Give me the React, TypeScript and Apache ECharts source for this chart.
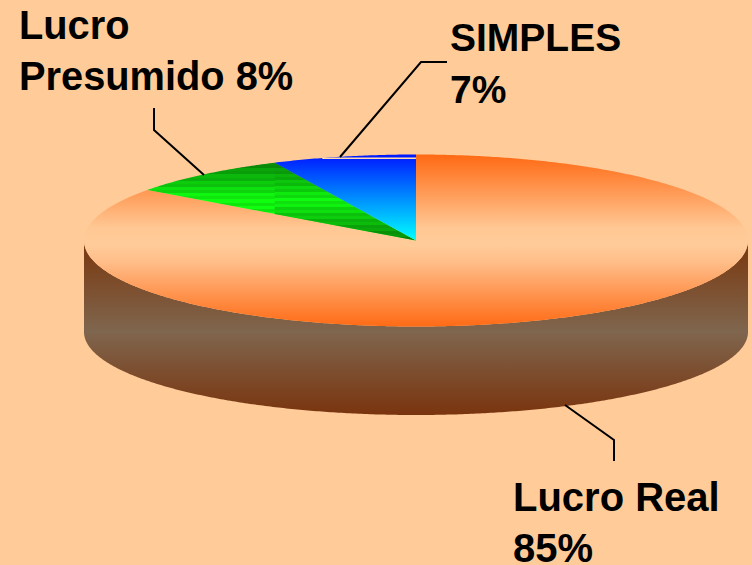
import React, { useEffect, useRef } from "react";
import * as echarts from "echarts";

const categories = ["Lucro Real", "Lucro Presumido", "SIMPLES"];
const percents = [85, 8, 7];

const BG = "#FFCC99";
const CX = 416;
const CY = 240.5;
const RX = 332;
const RY = 86;
const LOW_CY = 332;
const LOW_RY = 83;

const vgrad = (y1: number, y2: number, stops: [number, string][]) => ({
  type: "linear",
  x: 0,
  y: y1,
  x2: 0,
  y2,
  global: true,
  colorStops: stops.map(([offset, color]) => ({ offset, color })),
});

// Banded green shading: bright level runs from edge to peak with a 3px stripe.
const greenBands = (y1: number, y2: number, level: (f: number) => number) => {
  const n = Math.floor((y2 - y1) / 3);
  const stops: any[] = [];
  for (let k = 0; k < n; k++) {
    const v = level((k + 0.5) / n) * (k % 2 ? 0.9 : 1);
    const g = Math.round(v);
    const color = `rgb(${Math.round(g * 0.06)},${g},${Math.round(g * 0.06)})`;
    stops.push({ offset: k / n, color }, { offset: (k + 1) / n, color });
  }
  return { type: "linear", x: 0, y: y1, x2: 0, y2, global: true, colorStops: stops };
};

const pt = (deg: number, cy = CY, ry = RY): number[] => {
  const t = (deg * Math.PI) / 180;
  return [CX + RX * Math.sin(t), cy - ry * Math.cos(t)];
};

const arc = (a: number, b: number, cy = CY, ry = RY): number[][] => {
  const n = Math.max(2, Math.ceil(Math.abs(b - a) * 2));
  const out: number[][] = [];
  for (let i = 0; i <= n; i++) out.push(pt(a + ((b - a) * i) / n, cy, ry));
  return out;
};

const total = percents.reduce((s, v) => s + v, 0);
const span = (i: number): [number, number] => {
  const before = percents.slice(0, i).reduce((s, v) => s + v, 0);
  return [(before / total) * 360, ((before + percents[i]) / total) * 360];
};

const topFills = [
  vgrad(155, 327, [
    [0, "#FF6A14"],
    [0.42, "#FFC793"],
    [0.52, "#FFCC99"],
    [0.62, "#FFBE8A"],
    [1, "#FF6A14"],
  ]),
  greenBands(162, 215, (f) => 138 + 117 * Math.min(1, f * 1.5)),
  vgrad(155, 240, [
    [0, "#0018FF"],
    [1, "#00FFFF"],
  ]),
];

const renderItem = (params: any) => {
  const i = params.dataIndex;
  const [a, b] = span(i);
  const children: any[] = [];

  // Rim of the disc: only the front half (90..270 degrees) can be seen.
  const fa = Math.max(a, 90);
  const fb = Math.min(b, 270);
  if (fb > fa) {
    children.push({
      type: "polygon",
      shape: { points: [...arc(fa, fb), ...arc(fb, fa, LOW_CY, LOW_RY)] },
      style: {
        fill: vgrad(248, 415, [
          [0, "#7A3A12"],
          [0.5, "#7F664E"],
          [1, "#7A340E"],
        ]),
      },
    });
  }

  children.push({
    type: "polygon",
    shape: { points: [[CX, CY], ...arc(a, b)] },
    style: { fill: topFills[i] },
  });

  if (i === 1) {
    // Second shading panel of the green slice, right of its outer corner.
    const end = pt(b);
    const start = pt(a);
    const f = (CX - end[0]) / (CX - start[0]);
    const lower = [end[0], CY + (start[1] - CY) * f];
    children.push({
      type: "polygon",
      shape: { points: [[CX, CY], end, lower] },
      style: {
        fill: greenBands(162, 240, (t) => 138 + 117 * (1 - Math.abs(t - 0.5) * 2)),
      },
    });
  }

  if (i === 2) {
    // Pale seam just under the top of the blue slice.
    children.push({
      type: "line",
      shape: { x1: pt(a + 8.8)[0], y1: 158.3, x2: CX, y2: 158.3 },
      style: { stroke: "#FFD9B0", lineWidth: 1.4 },
    });
  }

  return { type: "group", children };
};

const pct = (i: number) => `${percents[i]}%`;
const labelTexts = [
  { text: `${categories[0]}\n${pct(0)}`, x: 513, y: 471, size: 40 },
  { text: `Lucro\nPresumido ${pct(1)}`, x: 19, y: -1, size: 39.8 },
  { text: `${categories[2]}\n${pct(2)}`, x: 450, y: 12, size: 39 },
];

const leaders: number[][][] = [
  [[565, 405], [614, 440], [614, 461]],
  [[154, 108], [154, 130], [204, 175]],
  [[447, 62], [421, 62], [340, 157]],
];

export default function App() {
  const ref = useRef<HTMLDivElement>(null);
  useEffect(() => {
    document.body.style.margin = "0";
    document.body.style.background = BG;
    document.body.style.overflow = "hidden";
    const chart = echarts.init(ref.current!, null, { renderer: "svg" });
    chart.setOption({
      animation: false,
      backgroundColor: BG,
      series: [
        {
          type: "custom",
          coordinateSystem: "none",
          silent: true,
          clip: false,
          renderItem,
          data: categories.map((name, i) => ({ name, value: percents[i] })),
        },
      ],
      graphic: [
        ...leaders.map((points) => ({
          type: "polyline",
          z: 10,
          silent: true,
          shape: { points },
          style: { stroke: "#000", fill: "none", lineWidth: 2 },
        })),
        ...labelTexts.map((l) => ({
          type: "text",
          z: 11,
          silent: true,
          x: l.x,
          y: l.y,
          style: {
            text: l.text,
            fill: "#000",
            font: `bold ${l.size}px "Liberation Sans", Arial, sans-serif`,
            lineHeight: 51.5,
            textAlign: "left",
            textVerticalAlign: "top",
          },
        })),
      ],
    });
    return () => chart.dispose();
  }, []);
  return <div ref={ref} style={{ width: 752, height: 565 }} />;
}
